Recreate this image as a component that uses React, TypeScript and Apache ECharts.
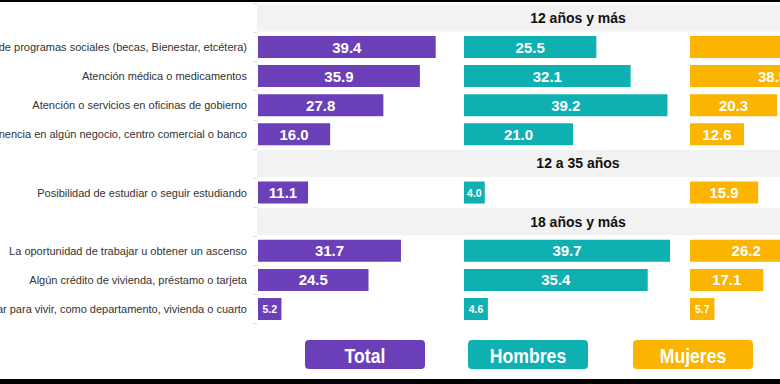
import React, { useEffect, useRef } from 'react';
import * as echarts from 'echarts';

// ---- data ----
const categories = [
  '12 años y más',
  'Recibir apoyos de programas sociales (becas, Bienestar, etcétera)',
  'Atención médica o medicamentos',
  'Atención o servicios en oficinas de gobierno',
  'La entrada o permanencia en algún negocio, centro comercial o banco',
  '12 a 35 años',
  'Posibilidad de estudiar o seguir estudiando',
  '18 años y más',
  'La oportunidad de trabajar u obtener un ascenso',
  'Algún crédito de vivienda, préstamo o tarjeta',
  'Rentar o comprar un lugar para vivir, como departamento, vivienda o cuarto',
];
const groupHeaders = ['12 años y más', '12 a 35 años', '18 años y más'];
const totalValues = [null, 39.4, 35.9, 27.8, 16.0, null, 11.1, null, 31.7, 24.5, 5.2];
const hombresValues = [null, 25.5, 32.1, 39.2, 21.0, null, 4.0, null, 39.7, 35.4, 4.6];
const mujeresValues = [null, 49.2, 38.5, 20.3, 12.6, null, 15.9, null, 26.2, 17.1, 5.7];
const seriesNames = ['Total', 'Hombres', 'Mujeres'];
const seriesColors = ['#6b3fb8', '#0fb0b2', '#fbb400'];

const SANS = "'Liberation Sans', Arial, sans-serif";

export default function App() {
  const ref = useRef<HTMLDivElement>(null);

  useEffect(() => {
    if (!ref.current) return;
    const chart = echarts.init(ref.current, undefined, { renderer: 'svg' });

    const gridTop = 3.35;
    const gridHeight = 320.2;
    const panels = [
      { left: 258, width: 225.5, values: totalValues },
      { left: 464, width: 259.5, values: hombresValues },
      { left: 690, width: 214.5, values: mujeresValues },
    ];

    const mkGrid = (left: number, width: number) => ({
      left,
      width,
      top: gridTop,
      height: gridHeight,
      containLabel: false,
      outerBoundsMode: 'none',
    });

    const grids: any[] = [mkGrid(257, 642)];
    const xAxes: any[] = [{ type: 'value', gridIndex: 0, min: 0, max: 1, show: false }];
    const yAxes: any[] = [
      {
        type: 'category',
        gridIndex: 0,
        data: categories,
        inverse: true,
        axisLine: { show: false },
        axisTick: { show: true, length: 4, lineStyle: { color: '#dcdcdc' } },
        splitLine: { show: false },
        axisLabel: {
          margin: 10,
          fontSize: 11,
          fontFamily: SANS,
          color: '#333',
          formatter: (v: string) => (groupHeaders.includes(v) ? '' : v),
        },
      },
    ];
    const series: any[] = [
      {
        type: 'bar',
        name: 'grupos',
        xAxisIndex: 0,
        yAxisIndex: 0,
        silent: true,
        barWidth: 27,
        itemStyle: { color: '#f2f2f2' },
        data: categories.map((c) => (groupHeaders.includes(c) ? 1 : '-')),
        label: {
          show: true,
          position: 'inside',
          formatter: (p: any) => p.name,
          color: '#111',
          fontWeight: 'bold',
          fontSize: 14,
          fontFamily: SANS,
        },
        z: 1,
      },
    ];

    panels.forEach((p, i) => {
      const gi = i + 1;
      grids.push(mkGrid(p.left, p.width));
      xAxes.push({ type: 'value', gridIndex: gi, min: 0, max: 50, show: false });
      yAxes.push({ type: 'category', gridIndex: gi, data: categories, inverse: true, show: false });
      series.push({
        type: 'bar',
        name: seriesNames[i],
        xAxisIndex: gi,
        yAxisIndex: gi,
        barWidth: 22,
        itemStyle: { color: seriesColors[i] },
        data: p.values.map((v) =>
          v == null
            ? '-'
            : v < 10
            ? { value: v, label: { fontSize: 10.5 } }
            : { value: v }
        ),
        label: {
          show: true,
          position: 'inside',
          color: '#fff',
          fontWeight: 'bold',
          fontSize: 15,
          fontFamily: SANS,
          formatter: (q: any) => Number(q.value).toFixed(1),
        },
        z: 2,
      });
    });

    const legendX = [305, 468, 633];
    const graphic: any[] = [];
    seriesNames.forEach((n, i) => {
      graphic.push({
        type: 'rect',
        shape: { x: legendX[i], y: 340, width: 120, height: 29, r: 4 },
        style: { fill: seriesColors[i] },
      });
      graphic.push({
        type: 'text',
        x: legendX[i] + 60,
        y: 355,
        scaleX: 0.84,
        style: {
          text: n,
          fill: '#fff',
          font: `bold 21px ${SANS}`,
          textAlign: 'center',
          textVerticalAlign: 'middle',
        },
      });
    });
    graphic.push({ type: 'rect', shape: { x: 0, y: 0, width: 780, height: 2 }, style: { fill: '#000' } });
    graphic.push({ type: 'rect', shape: { x: 0, y: 379, width: 780, height: 5 }, style: { fill: '#000' } });

    chart.setOption({
      animation: false,
      backgroundColor: '#fff',
      grid: grids,
      xAxis: xAxes,
      yAxis: yAxes,
      series,
      graphic,
    });

    return () => chart.dispose();
  }, []);

  return (
    <div
      ref={ref}
      style={{ position: 'fixed', left: 0, top: 0, width: 780, height: 384, background: '#fff' }}
    />
  );
}
